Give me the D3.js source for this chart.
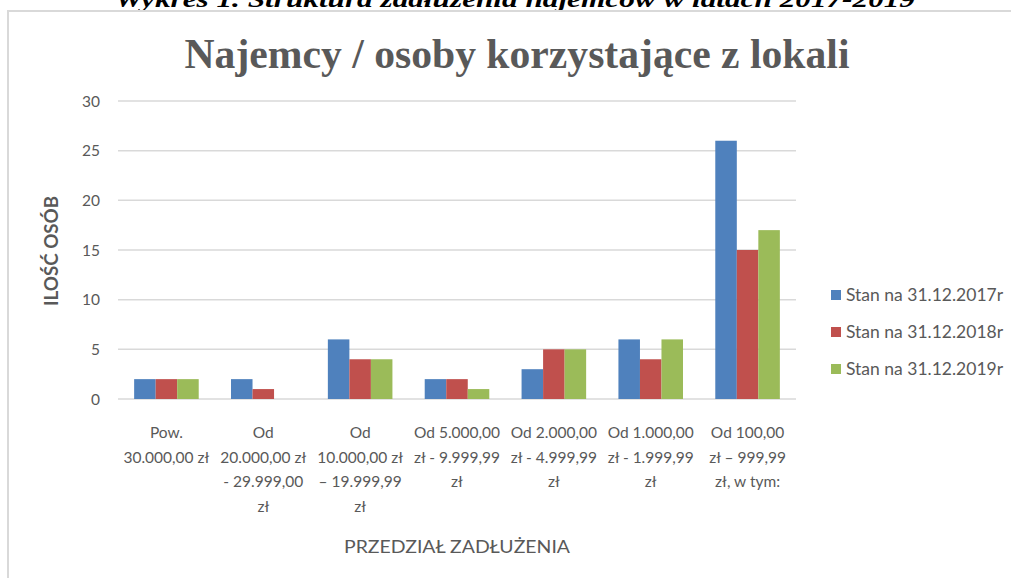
<!DOCTYPE html>
<html>
<head>
<meta charset="utf-8">
<script src="https://cdn.jsdelivr.net/npm/d3@7"></script>
<style>
  body { margin: 0; background: #fff; }
  svg { display: block; }
</style>
</head>
<body>
<svg id="chart" width="1011" height="578"></svg>
<script>
// data
var categories = [
    ["Pow.", "30.000,00 zł"],
    ["Od", "20.000,00 zł", "- 29.999,00", "zł"],
    ["Od", "10.000,00 zł", "– 19.999,99", "zł"],
    ["Od 5.000,00", "zł - 9.999,99", "zł"],
    ["Od 2.000,00", "zł - 4.999,99", "zł"],
    ["Od 1.000,00", "zł - 1.999,99", "zł"],
    ["Od 100,00", "zł – 999,99", "zł, w tym:"]
]
var seriesNames = ["Stan na 31.12.2017r", "Stan na 31.12.2018r", "Stan na 31.12.2019r"]
var values2017 = [2, 2, 6, 2, 3, 6, 26]
var values2018 = [2, 1, 4, 2, 5, 4, 15]
var values2019 = [2, 0, 4, 1, 5, 6, 17]
var yTicks = [0, 5, 10, 15, 20, 25, 30]
var colors = ["#4F81BD", "#C0504D", "#9BBB59"]

var allSeries = [values2017, values2018, values2019]

var svg = d3.select("#chart")
var font = "Lato, 'Open Sans', sans-serif"
var textColor = "#595959"

// heading above the chart, mostly cut off at the top
svg.append("text")
    .attr("x", 515)
    .attr("y", 7)
    .attr("text-anchor", "middle")
    .attr("textLength", 800)
    .attr("lengthAdjust", "spacingAndGlyphs")
    .style("font-family", "'Liberation Serif', serif")
    .style("font-weight", "bold")
    .style("font-style", "italic")
    .style("font-size", "24px")
    .style("fill", "#000")
    .text("Wykres 1. Struktura zadłużenia najemców w latach 2017-2019")

// chart frame
svg.append("rect")
    .attr("x", 8)
    .attr("y", 11)
    .attr("width", 1100)
    .attr("height", 700)
    .attr("fill", "#fff")
    .attr("stroke", "#d9d9d9")
    .attr("stroke-width", 2)

svg.append("text")
    .attr("x", 517)
    .attr("y", 68)
    .attr("text-anchor", "middle")
    .attr("textLength", 665)
    .attr("lengthAdjust", "spacingAndGlyphs")
    .style("font-family", "'Liberation Serif', serif")
    .style("font-weight", "bold")
    .style("font-size", "42px")
    .style("fill", textColor)
    .text("Najemcy / osoby korzystające z lokali")

var plotLeft = 118, plotRight = 796, plotTop = 101, plotBottom = 399

var x = d3.scaleBand()
    .domain(d3.range(categories.length))
    .range([plotLeft, plotRight])

var inner = d3.scaleBand()
    .domain(d3.range(allSeries.length))
    .range([0, x.bandwidth()])
    .paddingOuter(0.75)

var y = d3.scaleLinear()
    .domain([0, 30])
    .range([plotBottom, plotTop])

// gridlines
svg.append("g")
    .selectAll("line")
    .data(yTicks)
    .enter()
    .append("line")
    .attr("x1", plotLeft)
    .attr("x2", plotRight)
    .attr("y1", d => y(d))
    .attr("y2", d => y(d))
    .attr("stroke", "#d9d9d9")
    .attr("stroke-width", 1.5)

// y tick labels
svg.append("g")
    .selectAll("text")
    .data(yTicks)
    .enter()
    .append("text")
    .attr("x", 100)
    .attr("y", d => y(d) + 5.5)
    .attr("text-anchor", "end")
    .style("font-family", font)
    .style("font-size", "15.5px")
    .style("fill", textColor)
    .text(d => d)

// bars
allSeries.forEach(function (vals, s) {
    svg.append("g")
        .selectAll("rect")
        .data(vals)
        .enter()
        .append("rect")
        .attr("x", (d, i) => x(i) + inner(s))
        .attr("y", d => y(d))
        .attr("width", inner.bandwidth())
        .attr("height", d => plotBottom - y(d))
        .attr("fill", colors[s])
})

// x category labels
var labels = svg.append("g")
    .selectAll("text")
    .data(categories)
    .enter()
    .append("text")
    .attr("text-anchor", "middle")
    .style("font-family", font)
    .style("font-size", "15.5px")
    .style("fill", textColor)

labels.selectAll("tspan")
    .data((d, i) => d.map(line => ({ line: line, i: i })))
    .enter()
    .append("tspan")
    .attr("x", d => x(d.i) + x.bandwidth() / 2)
    .attr("y", (d, j) => 438 + j * 24.7)
    .text(d => d.line)

// axis titles
svg.append("text")
    .attr("x", 457)
    .attr("y", 553)
    .attr("text-anchor", "middle")
    .attr("textLength", 226)
    .attr("lengthAdjust", "spacingAndGlyphs")
    .style("font-family", font)
    .style("font-size", "18px")
    .style("fill", textColor)
    .text("PRZEDZIAŁ ZADŁUŻENIA")

svg.append("text")
    .attr("transform", "translate(58,251) rotate(-90)")
    .attr("text-anchor", "middle")
    .attr("textLength", 110)
    .attr("lengthAdjust", "spacingAndGlyphs")
    .style("font-family", font)
    .style("font-size", "18px")
    .style("font-weight", "bold")
    .style("fill", textColor)
    .text("ILOŚĆ OSÓB")

// legend
var legend = svg.append("g")
    .selectAll("g")
    .data(seriesNames)
    .enter()
    .append("g")
    .attr("transform", (d, i) => "translate(831," + (295 + i * 37) + ")")

legend.append("rect")
    .attr("x", 0)
    .attr("y", -5)
    .attr("width", 10)
    .attr("height", 10)
    .attr("fill", (d, i) => colors[i])

legend.append("text")
    .attr("x", 15)
    .attr("y", 6)
    .style("font-family", font)
    .style("font-size", "17.5px")
    .style("fill", textColor)
    .text(d => d)
</script>
</body>
</html>
